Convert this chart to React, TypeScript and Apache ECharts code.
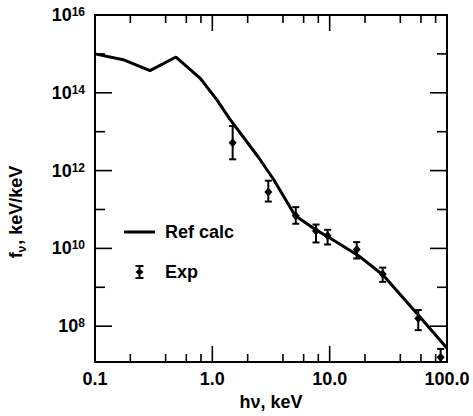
import React, { useEffect, useRef } from 'react';
import * as echarts from 'echarts';

// Reference calculation (photon energy keV, flux keV/keV)
const refEnergy = [0.1, 0.174, 0.294, 0.49, 0.785, 1.09, 1.41, 2.47, 3.33, 5.07, 7.76, 9.73, 17.5, 28.6, 56.9, 100];
const refFlux = [1.0e15, 7.1e14, 3.7e14, 8.3e14, 2.4e14, 6.7e13, 2.1e13, 2.2e12, 5.9e11, 7.0e10, 2.9e10, 1.96e10, 6.6e9, 2.04e9, 1.94e8, 2.7e7];

// Experimental points with error bars
const expEnergy = [1.49, 3.0, 5.14, 7.65, 9.6, 17.0, 28.3, 56.9, 88.3];
const expFlux = [5.2e12, 2.8e11, 6.9e10, 2.8e10, 2.1e10, 9.3e9, 2.2e9, 1.58e8, 1.58e7];
const expHigh = [1.4e13, 5.5e11, 1.15e11, 4.1e10, 3.0e10, 1.45e10, 3.2e9, 2.6e8, 2.6e7];
const expLow = [1.95e12, 1.6e11, 4.3e10, 1.42e10, 1.26e10, 5.5e9, 1.38e9, 7.9e7, 1.0e7];

// Axes
const X_MIN = 0.1;
const X_MAX = 100;
const Y_MIN = 1.2e7;
const Y_MAX = 1e16;
const xTickValues = [0.1, 1, 10, 100];
const xTickLabels = ['0.1', '1.0', '10.0', '100.0'];
const yLabelExponents = [8, 10, 12, 14, 16];
const xMajorTicks = [1, 10];
const xMinorTicks = [0.2, 0.4, 0.6, 0.8, 2, 4, 6, 8, 20, 40, 60, 80];
const yMajorTicks = [1e8, 1e10, 1e12, 1e14];
const yMinorTicks = [1e9, 1e11, 1e13, 1e15];

const FONT = '"Liberation Sans", Arial, Helvetica, sans-serif';

function tickSeries(values: number[], dir: 'x' | 'y', len: number) {
  return {
    type: 'custom',
    silent: true,
    clip: false,
    z: 5,
    encode: { x: 0, y: 1 },
    data: values.map((v) => (dir === 'x' ? [v, Y_MIN] : [X_MIN, v])),
    renderItem: (params: any, api: any) => {
      const cs = params.coordSys;
      const style = { stroke: '#000', lineWidth: 1.6 };
      if (dir === 'x') {
        const px = api.coord([api.value(0), Y_MIN])[0];
        return {
          type: 'group',
          children: [
            { type: 'line', shape: { x1: px, y1: cs.y + cs.height, x2: px, y2: cs.y + cs.height - len }, style },
            { type: 'line', shape: { x1: px, y1: cs.y, x2: px, y2: cs.y + len }, style },
          ],
        };
      }
      const py = api.coord([X_MIN, api.value(1)])[1];
      return {
        type: 'group',
        children: [
          { type: 'line', shape: { x1: cs.x, y1: py, x2: cs.x + len, y2: py }, style },
          { type: 'line', shape: { x1: cs.x + cs.width, y1: py, x2: cs.x + cs.width - len, y2: py }, style },
        ],
      };
    },
  };
}

export default function App() {
  const ref = useRef<HTMLDivElement>(null);

  useEffect(() => {
    if (!ref.current) return;
    const chart = echarts.init(ref.current, undefined, { renderer: 'svg' });

    const option: any = {
      animation: false,
      backgroundColor: '#fff',
      grid: {
        left: 95,
        right: 26,
        top: 15,
        bottom: 52,
        show: true,
        borderColor: '#000',
        borderWidth: 2,
        backgroundColor: 'transparent',
      },
      legend: {
        orient: 'vertical',
        left: 119,
        top: 218,
        itemWidth: 31,
        itemHeight: 14,
        itemGap: 22,
        symbolKeepAspect: true,
        textStyle: { fontSize: 18, fontWeight: 'bold', fontFamily: FONT, color: '#000', padding: [0, 0, 0, 5] },
        data: [
          { name: 'Ref calc', icon: 'path://M0,0 H31 V3 H0 Z' },
          {
            name: 'Exp',
            icon: 'path://M0,0 H8 V2 H0 Z M3,0 H5 V14 H3 Z M0,12 H8 V14 H0 Z M4,3.5 L8,7 L4,10.5 L0,7 Z',
          },
        ],
      },
      xAxis: {
        type: 'log',
        logBase: 10,
        min: X_MIN,
        max: X_MAX,
        name: 'hν, keV',
        nameLocation: 'middle',
        nameGap: 31,
        nameTextStyle: { fontSize: 18, fontWeight: 'bold', fontFamily: FONT, color: '#000' },
        axisLine: { show: false },
        axisTick: { show: false },
        splitLine: { show: false },
        minorTick: { show: false },
        axisLabel: {
          margin: 8,
          fontSize: 18,
          fontWeight: 'bold',
          fontFamily: FONT,
          color: '#000',
          formatter: (v: number) => {
            const i = xTickValues.findIndex((t) => Math.abs(Math.log10(t) - Math.log10(v)) < 1e-6);
            return i >= 0 ? xTickLabels[i] : '';
          },
        },
      },
      yAxis: {
        type: 'log',
        logBase: 10,
        min: Y_MIN,
        max: Y_MAX,
        splitNumber: 10,
        axisLine: { show: false },
        axisTick: { show: false },
        splitLine: { show: false },
        minorTick: { show: false },
        axisLabel: {
          margin: 10,
          color: '#000',
          formatter: (v: number) => {
            const e = Math.log10(v);
            const r = Math.round(e);
            if (Math.abs(e - r) < 1e-6 && yLabelExponents.includes(r)) return `{b|10}{s|${r}}`;
            return '';
          },
          rich: {
            b: { fontSize: 18, fontWeight: 'bold', fontFamily: FONT, color: '#000', lineHeight: 18 },
            s: { fontSize: 12, fontWeight: 'bold', fontFamily: FONT, color: '#000', verticalAlign: 'top', lineHeight: 12 },
          },
        },
      },
      graphic: [
        {
          type: 'text',
          x: 16,
          y: 212,
          rotation: Math.PI / 2,
          style: {
            text: '{f|f}{s|ν}{f|, keV/keV}',
            align: 'center',
            verticalAlign: 'middle',
            fill: '#000',
            rich: {
              f: { fontSize: 18, fontWeight: 'bold', fontFamily: FONT, fill: '#000', lineHeight: 18, verticalAlign: 'top' },
              s: { fontSize: 12, fontWeight: 'bold', fontFamily: FONT, fill: '#000', lineHeight: 12, verticalAlign: 'top', padding: [9, 1, 0, 0] },
            },
          },
        },
      ],
      series: [
        {
          name: 'Ref calc',
          type: 'line',
          data: refEnergy.map((e, i) => [e, refFlux[i]]),
          showSymbol: false,
          symbol: 'none',
          lineStyle: { color: '#000', width: 3 },
          itemStyle: { color: '#000' },
          z: 3,
        },
        {
          name: 'Exp',
          type: 'custom',
          clip: true,
          z: 4,
          itemStyle: { color: '#000' },
          encode: { x: 0, y: 1 },
          data: expEnergy.map((e, i) => [e, expFlux[i], expLow[i], expHigh[i]]),
          renderItem: (params: any, api: any) => {
            const x = api.value(0);
            const c = api.coord([x, api.value(1)]);
            const lo = api.coord([x, api.value(2)]);
            const hi = api.coord([x, api.value(3)]);
            const cap = 3.5;
            const style = { stroke: '#000', lineWidth: 2 };
            return {
              type: 'group',
              children: [
                { type: 'line', shape: { x1: c[0], y1: hi[1], x2: c[0], y2: lo[1] }, style },
                { type: 'line', shape: { x1: c[0] - cap, y1: hi[1], x2: c[0] + cap, y2: hi[1] }, style },
                { type: 'line', shape: { x1: c[0] - cap, y1: lo[1], x2: c[0] + cap, y2: lo[1] }, style },
                {
                  type: 'polygon',
                  shape: { points: [[c[0], c[1] - 4.5], [c[0] + 4, c[1]], [c[0], c[1] + 4.5], [c[0] - 4, c[1]]] },
                  style: { fill: '#000' },
                },
              ],
            };
          },
        },
        tickSeries(xMajorTicks, 'x', 16),
        tickSeries(xMinorTicks, 'x', 8),
        tickSeries(yMajorTicks, 'y', 17),
        tickSeries(yMinorTicks, 'y', 10),
      ],
    };

    chart.setOption(option);
    return () => chart.dispose();
  }, []);

  return (
    <div
      ref={ref}
      style={{ position: 'fixed', left: 0, top: 0, width: 473, height: 416, background: '#fff' }}
    />
  );
}
